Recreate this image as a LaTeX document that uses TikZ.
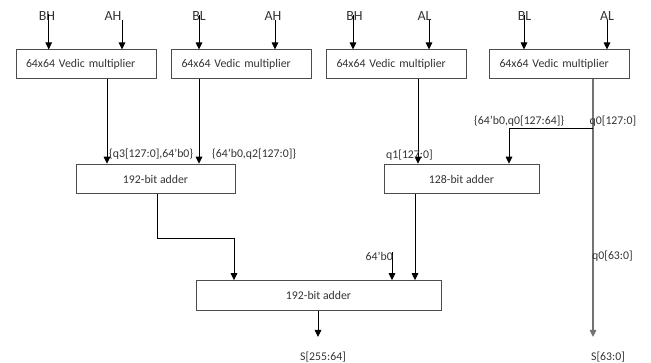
\documentclass[tikz,border=0pt]{standalone}
\usepackage{fontspec}
\setmainfont{Carlito}
\usetikzlibrary{arrows.meta}
\begin{document}
\begin{tikzpicture}[x=1pt,y=-1pt,
  txt/.style={text=black!80,font=\fontsize{11.8}{13}\selectfont},
  inlbl/.style={text=black!80,font=\fontsize{14}{16}\selectfont,inner sep=0pt},
  lbl/.style={txt,inner sep=0pt},
  mult/.style={draw=black!70,line width=1pt,minimum height=29pt,text width=120pt,align=left,inner xsep=10pt,inner ysep=0pt,txt},
  adder/.style={draw=black!70,line width=1pt,minimum height=29.5pt,inner sep=0pt,txt},
  arr/.style={draw=black,line width=0.9pt,-{Triangle[width=6.5pt,length=7pt]}},
  ln/.style={draw=black,line width=0.9pt},
  garr/.style={draw=black!55,line width=1.1pt,-{Triangle[width=6.5pt,length=7pt]}},
  gln/.style={draw=black!55,line width=1.1pt}]
\useasboundingbox (0,0) rectangle (651,363);
% multipliers
\node[mult] (m1) at (86,64.5) {64x64 Vedic multiplier};
\node[mult] (m2) at (241.5,64.5) {64x64 Vedic multiplier};
\node[mult] (m3) at (396.5,64.5) {64x64 Vedic multiplier};
\node[mult] (m4) at (559.5,64.5) {64x64 Vedic multiplier};
% adders
\node[adder,minimum width=159pt] (a1) at (155.5,179) {192-bit adder};
\node[adder,minimum width=155pt] (a2) at (461.5,179) {128-bit adder};
\node[adder,minimum width=245pt] (a3) at (318.5,295.5) {192-bit adder};
% input labels
\node[inlbl] (i1) at (47,16.5) {BH};
\node[inlbl] (i2) at (113,16.5) {AH};
\node[inlbl] (i3) at (199,16.5) {BL};
\node[inlbl] (i4) at (273,16.5) {AH};
\node[inlbl] (i5) at (354.5,16.5) {BH};
\node[inlbl] (i6) at (424.5,16.5) {AL};
\node[inlbl] (i7) at (524.5,16.5) {BL};
\node[inlbl] (i8) at (607,16.5) {AL};
\coordinate (c1) at (48.7,14);
\coordinate (c2) at (122,20);
\coordinate (c3) at (199,15);
\coordinate (c4) at (275,20);
\coordinate (c5) at (353,15);
\coordinate (c6) at (429,20);
\coordinate (c7) at (524,15);
\coordinate (c8) at (607,20);
\foreach \c/\m in {c1/m1,c2/m1,c3/m2,c4/m2,c5/m3,c6/m3,c7/m4,c8/m4}
  \draw[arr] (\c) -- (\c |- \m.north);
% multiplier outputs
\coordinate (o1) at (107,79);
\coordinate (o2) at (199,79);
\coordinate (o3) at (418,79);
\coordinate (o4) at (593,79);
\draw[arr] (o1 |- m1.south) -- (o1 |- a1.north);
\draw[arr] (o2 |- m2.south) -- (o2 |- a1.north);
\draw[arr] (o3 |- m3.south) -- (o3 |- a2.north);
\coordinate (s0) at (593,337);
\draw[garr] (o4 |- m4.south) -- (s0);
\coordinate (j1) at (593,128);
\coordinate (j2) at (509,128);
\draw[ln] (j1) -- (j2);
\draw[arr] (j2) -- (j2 |- a2.north);
% adder outputs
\coordinate (b1) at (157,238);
\coordinate (b2) at (234,238);
\draw[ln] (b1 |- a1.south) -- (b1) -- (b2);
\draw[arr] (b2) -- (b2 |- a3.north);
\coordinate (b3) at (415,194);
\draw[arr] (b3 |- a2.south) -- (b3 |- a3.north);
\coordinate (z0) at (392,252);
\draw[arr] (z0) -- (z0 |- a3.north);
\coordinate (s1) at (318,337);
\draw[arr] (s1 |- a3.south) -- (s1);
% labels
\node[lbl,anchor=west] (l1) at (109,154) {\{q3[127:0],64’b0\}};
\node[lbl,anchor=west] (l2) at (212,154) {\{64’b0,q2[127:0]\}};
\node[lbl,anchor=west] (l3) at (474,121) {\{64’b0,q0[127:64]\}};
\node[lbl,anchor=west] (l4) at (589.5,121) {q0[127:0]};
\node[lbl,anchor=west] (l5) at (386,155) {q1[127:0]};
\node[lbl,anchor=east] (l6) at (393,256) {64’b0};
\node[lbl,anchor=west] (l7) at (592,256) {q0[63:0]};
\node[lbl] (l8) at (323,357) {S[255:64]};
\node[lbl,anchor=west] (l9) at (591,357) {S[63:0]};
\end{tikzpicture}
\end{document}
